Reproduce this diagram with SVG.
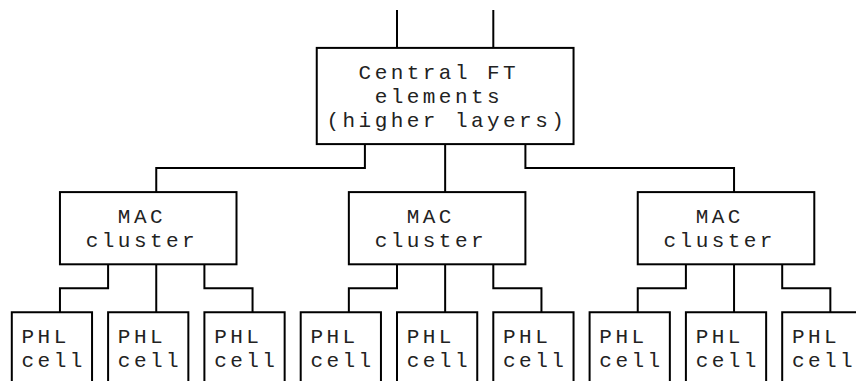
<svg xmlns="http://www.w3.org/2000/svg" width="856" height="381" viewBox="0 0 856 381">
<style>
.box{fill:none;stroke:#000;stroke-width:2;stroke-linejoin:miter}
.con{fill:none;stroke:#000;stroke-width:2;stroke-linejoin:miter}
text{font-family:"Liberation Mono","Courier New",monospace;font-size:21px;letter-spacing:3.45px;fill:#222}
</style>
<rect width="856" height="381" fill="#fff"/>
<g id="connectors">
<path class="con" d="M397,10 V47.9"/>
<path class="con" d="M493.3,10 V47.9"/>
<path class="con" d="M364.9,144.1 V168.1 H156.25 V192.1"/>
<path class="con" d="M445.15,144.1 V192.1"/>
<path class="con" d="M525.4,144.1 V168.1 H734.05 V192.1"/>
<path class="con" d="M108.1,264.3 V288.3 H59.95 V312.3"/>
<path class="con" d="M156.25,264.3 V312.3"/>
<path class="con" d="M204.4,264.3 V288.3 H252.55 V312.3"/>
<path class="con" d="M397,264.3 V288.3 H348.85 V312.3"/>
<path class="con" d="M445.15,264.3 V312.3"/>
<path class="con" d="M493.3,264.3 V288.3 H541.45 V312.3"/>
<path class="con" d="M685.9,264.3 V288.3 H637.75 V312.3"/>
<path class="con" d="M734.05,264.3 V312.3"/>
<path class="con" d="M782.2,264.3 V288.3 H830.35 V312.3"/>
</g>
<g id="central">
<rect class="box" x="316.75" y="47.9" width="256.8" height="96.2"/>
<text x="358.6" y="78.5">Central FT</text>
<text x="374.65" y="102.5">elements</text>
<text x="326.5" y="126.5">(higher layers)</text>
</g>
<g id="mac1">
<rect class="box" x="59.95" y="192.1" width="176.55" height="72.2"/>
<text x="117.85" y="222.8">MAC</text>
<text x="85.75" y="246.8">cluster</text>
</g>
<g id="mac2">
<rect class="box" x="348.85" y="192.1" width="176.55" height="72.2"/>
<text x="406.75" y="222.8">MAC</text>
<text x="374.65" y="246.8">cluster</text>
</g>
<g id="mac3">
<rect class="box" x="637.75" y="192.1" width="176.55" height="72.2"/>
<text x="695.65" y="222.8">MAC</text>
<text x="663.55" y="246.8">cluster</text>
</g>
<g id="phl1"><path class="box" d="M11.8,382 V312.3 H92.05 V382"/><text x="21.55" y="342.8">PHL</text><text x="21.55" y="366.8">cell</text></g>
<g id="phl2"><path class="box" d="M108.1,382 V312.3 H188.35 V382"/><text x="117.85" y="342.8">PHL</text><text x="117.85" y="366.8">cell</text></g>
<g id="phl3"><path class="box" d="M204.4,382 V312.3 H284.65 V382"/><text x="214.15" y="342.8">PHL</text><text x="214.15" y="366.8">cell</text></g>
<g id="phl4"><path class="box" d="M300.7,382 V312.3 H380.95 V382"/><text x="310.45" y="342.8">PHL</text><text x="310.45" y="366.8">cell</text></g>
<g id="phl5"><path class="box" d="M397,382 V312.3 H477.25 V382"/><text x="406.75" y="342.8">PHL</text><text x="406.75" y="366.8">cell</text></g>
<g id="phl6"><path class="box" d="M493.3,382 V312.3 H573.55 V382"/><text x="503.05" y="342.8">PHL</text><text x="503.05" y="366.8">cell</text></g>
<g id="phl7"><path class="box" d="M589.6,382 V312.3 H669.85 V382"/><text x="599.35" y="342.8">PHL</text><text x="599.35" y="366.8">cell</text></g>
<g id="phl8"><path class="box" d="M685.9,382 V312.3 H766.15 V382"/><text x="695.65" y="342.8">PHL</text><text x="695.65" y="366.8">cell</text></g>
<g id="phl9"><path class="box" d="M782.2,382 V312.3 H862.45 V382"/><text x="791.95" y="342.8">PHL</text><text x="791.95" y="366.8">cell</text></g>
</svg>
